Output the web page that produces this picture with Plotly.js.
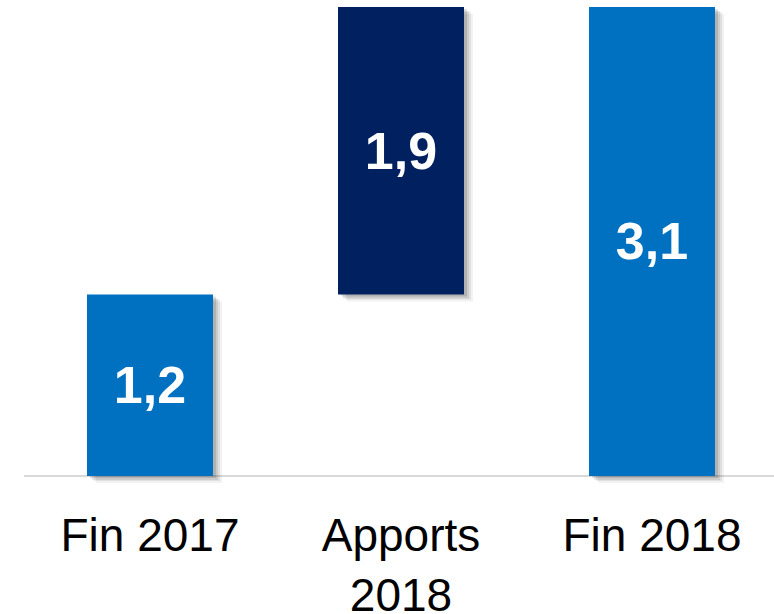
<!DOCTYPE html>
<html>
<head>
<meta charset="utf-8">
<script src="https://cdn.plot.ly/plotly-3.0.1.min.js"></script>
<style>
  html, body { margin: 0; padding: 0; background: #ffffff; }
  #chart { width: 774px; height: 614px; }
</style>
</head>
<body>
<div id="chart"></div>
<script>
// ---- data ----
const categories = ["Fin 2017", "Apports<br>2018", "Fin 2018"];
const barValues  = [1.2, 1.9, 3.1];
const barBases   = [0, 1.2, 0];
const barLabels  = ["1,2", "1,9", "3,1"];
const barColors  = ["#0070C0", "#002060", "#0070C0"];

// ---- style ----
const xIdx = categories.map((c, i) => i);
const BAR_W = 0.502;
const pxX = 1 / 251;   // data units per pixel, x
const pxY = 1 / 151.3; // data units per pixel, y

// soft drop-shadow layers (right and down)
const shadowLayers = [
  {dx: 9, dy: 7, a: 0.05},
  {dx: 7, dy: 5, a: 0.07},
  {dx: 5, dy: 4, a: 0.09},
  {dx: 3, dy: 2, a: 0.12}
];
const traces = shadowLayers.map(s => ({
  type: "bar",
  x: xIdx,
  y: barValues,
  base: barBases.map(b => b - s.dy * pxY),
  width: BAR_W,
  offset: -BAR_W / 2 + s.dx * pxX,
  marker: {color: "rgba(0,0,0," + s.a + ")", line: {width: 0}},
  hoverinfo: "skip",
  showlegend: false
}));

traces.push({
  type: "bar",
  x: xIdx,
  y: barValues,
  base: barBases,
  width: BAR_W,
  marker: {color: barColors, line: {width: 0}},
  text: barLabels,
  textposition: "inside",
  insidetextanchor: "middle",
  textangle: 0,
  constraintext: "none",
  textfont: {family: "Liberation Sans, Arial, sans-serif", size: 52, color: "#ffffff", weight: "bold"},
  hoverinfo: "skip",
  showlegend: false
});

const layout = {
  width: 774,
  height: 614,
  margin: {l: 24, r: 0, t: 7, b: 129},
  paper_bgcolor: "#ffffff",
  plot_bgcolor: "#ffffff",
  barmode: "overlay",
  showlegend: false,
  xaxis: {
    range: [-0.502, 2.486],
    tickmode: "array",
    tickvals: xIdx,
    ticktext: categories,
    showgrid: false,
    zeroline: false,
    showline: false,
    ticks: "",
    ticklabelstandoff: 19,
    tickfont: {family: "Liberation Sans, Arial, sans-serif", size: 46, color: "#000000"},
    fixedrange: true
  },
  yaxis: {
    range: [-0.06, 3.1],
    showgrid: false,
    showticklabels: false,
    ticks: "",
    showline: false,
    zeroline: true,
    zerolinecolor: "#d9d9d9",
    zerolinewidth: 2,
    fixedrange: true
  }
};

Plotly.newPlot("chart", traces, layout, {displayModeBar: false, staticPlot: true});
</script>
</body>
</html>
